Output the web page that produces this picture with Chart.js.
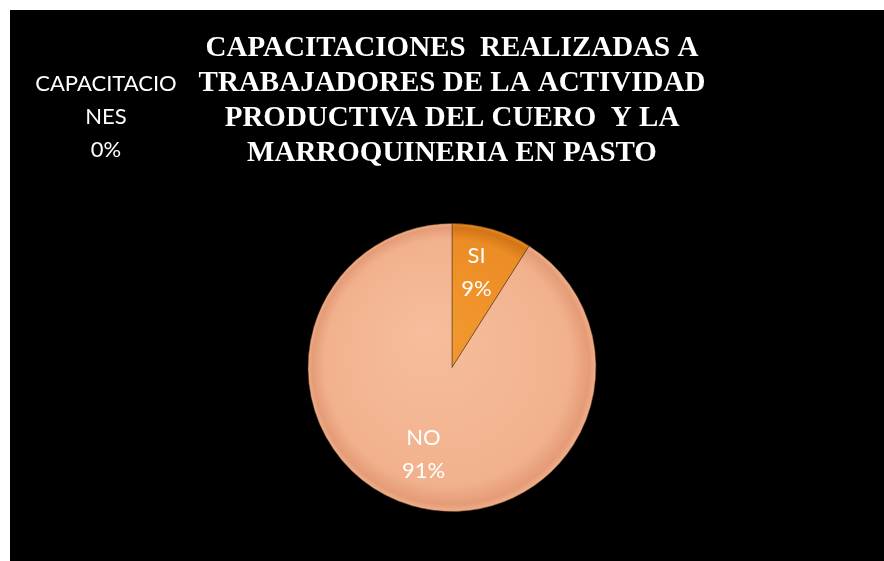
<!DOCTYPE html>
<html>
<head>
<meta charset="utf-8">
<script src="https://cdn.jsdelivr.net/npm/chart.js@4.4.1/dist/chart.umd.min.js"></script>
<style>
  html, body { margin: 0; padding: 0; background: #ffffff; }
  #wrap { position: absolute; left: 10px; top: 10px; width: 874px; height: 551px; background: #000000; }
  canvas { display: block; }
</style>
</head>
<body>
<div id="wrap"><canvas id="c" width="874" height="551"></canvas></div>
<script>
// ---- data ----
const categories = ['CAPACITACIONES', 'SI', 'NO'];
const values = [0, 9, 91];
const titleLines = [
  'CAPACITACIONES  REALIZADAS A',
  'TRABAJADORES DE LA ACTIVIDAD',
  'PRODUCTIVA DEL CUERO  Y LA',
  'MARROQUINERIA EN PASTO'
];

// ---- styles ----
const sliceStyles = [
  { inner: '#7fa0d0', mid: '#6f90c0', edge: '#55749f' },
  { inner: '#F39A30', mid: '#EC8C24', edge: '#D27518' },
  { inner: '#F6BE9C', mid: '#F2B18D', edge: '#E49C77' }
];
const labelFont = '22px Lato, "Open Sans", sans-serif';
const labelLineHeight = 33;

function sliceFill(ctx) {
  const chart = ctx.chart;
  const area = chart.chartArea;
  if (!area) return sliceStyles[ctx.dataIndex].mid;
  const cx = (area.left + area.right) / 2;
  const cy = (area.top + area.bottom) / 2;
  const r = Math.min(area.right - area.left, area.bottom - area.top) / 2;
  const s = sliceStyles[ctx.dataIndex];
  const g = chart.ctx.createRadialGradient(cx - r * 0.2, cy - r * 0.25, 0, cx, cy, r);
  g.addColorStop(0, s.inner);
  g.addColorStop(0.85, s.mid);
  g.addColorStop(0.96, s.edge);
  g.addColorStop(1, s.mid);
  return g;
}

function wrapWord(ctx, text, maxW) {
  const lines = [];
  let cur = '';
  for (const ch of text) {
    if (cur && ctx.measureText(cur + ch).width > maxW) { lines.push(cur); cur = ch; }
    else cur += ch;
  }
  if (cur) lines.push(cur);
  return lines;
}

const labelPlugin = {
  id: 'sliceLabels',
  afterDatasetsDraw(chart) {
    const ctx = chart.ctx;
    const meta = chart.getDatasetMeta(0);
    const data = chart.data.datasets[0].data;
    const total = data.reduce((a, b) => a + b, 0);
    ctx.save();
    ctx.font = labelFont;
    ctx.fillStyle = '#ffffff';
    ctx.textAlign = 'center';
    ctx.textBaseline = 'alphabetic';
    meta.data.forEach((arc, i) => {
      const pct = Math.round(data[i] / total * 100) + '%';
      const name = chart.data.labels[i];
      let lines, x, y0;
      if (data[i] === 0) {
        lines = wrapWord(ctx, name, 148).concat([pct]);
        x = 96;
        y0 = 81;
      } else {
        const p = arc.getProps(['x', 'y', 'startAngle', 'endAngle', 'outerRadius'], true);
        const mid = (p.startAngle + p.endAngle) / 2;
        const rr = p.outerRadius * 0.66;
        const cx = p.x + Math.cos(mid) * rr;
        const cy = p.y + Math.sin(mid) * rr;
        lines = [name, pct];
        x = cx - 2;
        y0 = cy - labelLineHeight / 2 + 3;
      }
      lines.forEach((t, k) => ctx.fillText(t, x, y0 + k * labelLineHeight));
    });
    ctx.restore();
  }
};

new Chart(document.getElementById('c'), {
  type: 'pie',
  data: {
    labels: categories,
    datasets: [{
      data: values,
      backgroundColor: sliceFill,
      borderColor: 'rgba(90,60,30,0.55)',
      borderWidth: 1
    }]
  },
  options: {
    responsive: false,
    animation: false,
    rotation: 0,
    layout: { padding: { left: 10, right: 0, top: 0, bottom: 49 } },
    plugins: {
      legend: { display: false },
      tooltip: { enabled: false },
      title: {
        display: true,
        text: titleLines,
        color: '#ffffff',
        font: { family: '"Liberation Serif", "Times New Roman", serif', size: 29, weight: 'bold', lineHeight: 35 / 29 },
        padding: { top: 21, bottom: 52 }
      }
    }
  },
  plugins: [labelPlugin]
});
</script>
</body>
</html>
